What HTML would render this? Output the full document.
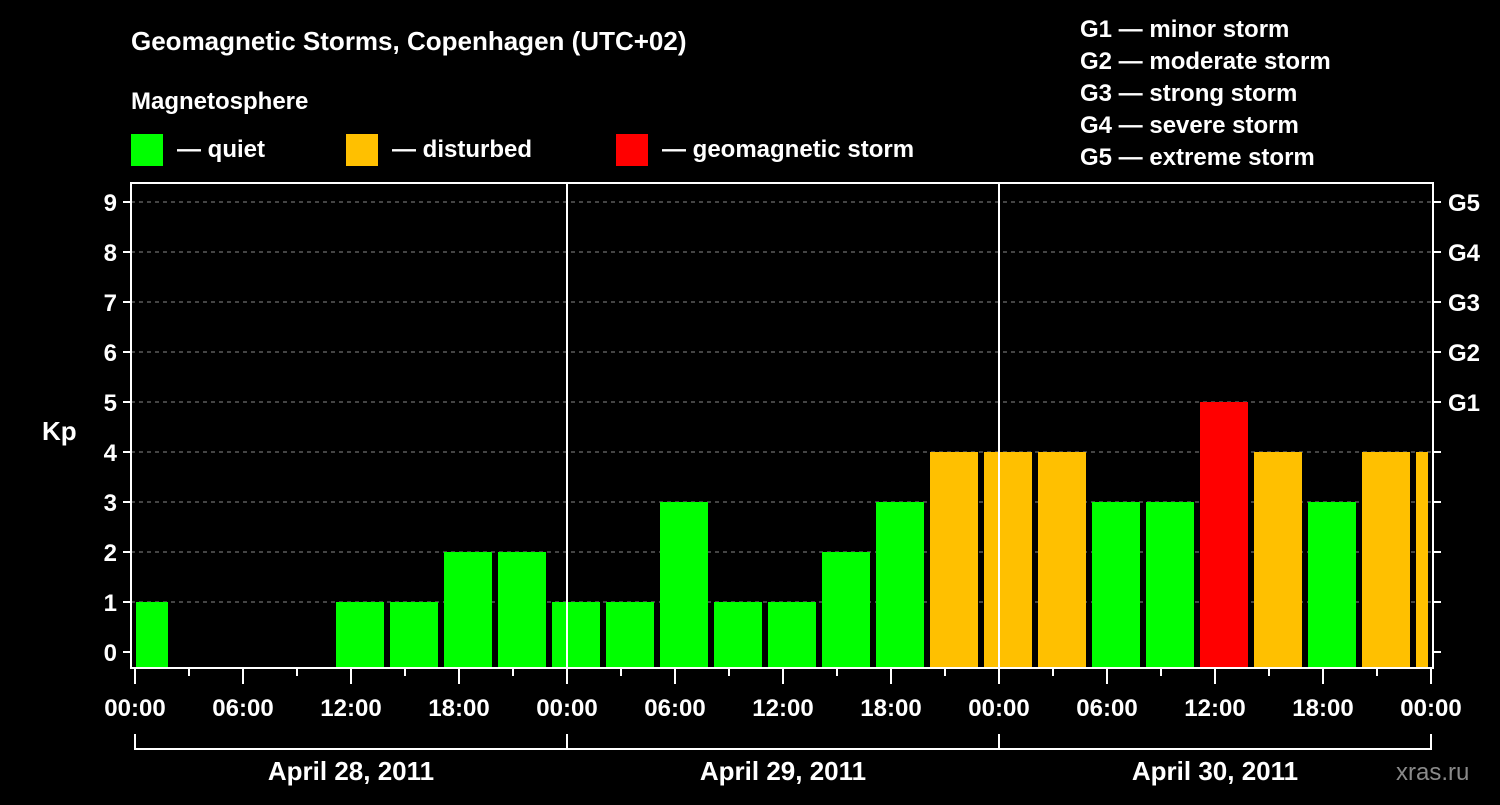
<!DOCTYPE html>
<html><head><meta charset="utf-8"><style>
body{margin:0;background:#000;width:1500px;height:800px;overflow:hidden}
svg text{font-family:"Liberation Sans",Arial,sans-serif;font-weight:bold;fill:#fff}
</style></head><body>
<svg id="chart" width="1500" height="800" xmlns="http://www.w3.org/2000/svg">
<text x="131" y="50" font-size="26">Geomagnetic Storms, Copenhagen (UTC+02)</text>
<text x="131" y="109" font-size="24">Magnetosphere</text>
<g><rect x="131" y="134" width="32" height="32" fill="#00ff00"/><text x="177" y="157" font-size="24">— quiet</text></g>
<g><rect x="346" y="134" width="32" height="32" fill="#ffc000"/><text x="392" y="157" font-size="24">— disturbed</text></g>
<g><rect x="616" y="134" width="32" height="32" fill="#ff0000"/><text x="662" y="157" font-size="24">— geomagnetic storm</text></g>
<g font-size="24">
<text x="1080" y="37">G1 — minor storm</text>
<text x="1080" y="69">G2 — moderate storm</text>
<text x="1080" y="101">G3 — strong storm</text>
<text x="1080" y="133">G4 — severe storm</text>
<text x="1080" y="165">G5 — extreme storm</text>
</g>
<text x="42" y="440" font-size="26">Kp</text>
<text x="1396" y="780" font-size="24" fill="#888" style="fill:#8a8a8a;font-weight:normal">xras.ru</text>
<g id="grid"></g><g id="bars"></g><g id="axes"></g>
</svg>
<script>
const kpValues=[1,0,0,0,1,1,2,2,1,1,3,1,1,2,3,4,4,4,3,3,5,4,3,4,4];
const yTicks=[0,1,2,3,4,5,6,7,8,9];
const gLabels=["G1","G2","G3","G4","G5"];
const xTickLabels=["00:00","06:00","12:00","18:00","00:00","06:00","12:00","18:00","00:00","06:00","12:00","18:00","00:00"];
const dayLabels=["April 28, 2011","April 29, 2011","April 30, 2011"];
const NS="http://www.w3.org/2000/svg";
const X0=135,PXH=18,Y0=652,PXK=50,L=131,R=1433,T=183,B=668;
const xs=h=>X0+h*PXH, ys=v=>Y0-v*PXK;
function mk(p,tag,at){const e=document.createElementNS(NS,tag);for(const k in at)e.setAttribute(k,at[k]);p.appendChild(e);return e;}
const grid=document.getElementById('grid'),bars=document.getElementById('bars'),ax=document.getElementById('axes');
yTicks.forEach(v=>{if(v>0){const g=mk(grid,'line',{x1:L,x2:R,y1:ys(v),y2:ys(v),stroke:'#888','stroke-dasharray':'4,4','stroke-width':1});

}});
kpValues.forEach((v,i)=>{if(v<=0)return;
let x1=xs(-1+3*i)+3,x2=x1+48;x1=Math.max(x1,136);x2=Math.min(x2,1428);
const c=v>=5?'#ff0000':v>=4?'#ffc000':'#00ff00';
const r=mk(bars,'rect',{x:x1,y:ys(v),width:x2-x1,height:B-1-ys(v),fill:c});

});
// day separators
[24,48].forEach(h=>{const l=mk(ax,'line',{x1:xs(h),x2:xs(h),y1:T,y2:B,stroke:'#fff','stroke-width':2});

});
const fr=mk(ax,'rect',{x:L,y:T,width:R-L,height:B-T,fill:'none',stroke:'#fff','stroke-width':2});


yTicks.forEach(v=>{mk(ax,'line',{x1:L-8,x2:L,y1:ys(v),y2:ys(v),stroke:'#fff','stroke-width':2});
mk(ax,'line',{x1:R,x2:R+8,y1:ys(v),y2:ys(v),stroke:'#fff','stroke-width':2});
const t=mk(ax,'text',{x:L-14,y:ys(v)+9,'text-anchor':'end','font-size':24});t.textContent=v;

});
gLabels.forEach((g,i)=>{const t=mk(ax,'text',{x:1448,y:ys(5+i)+9,'font-size':24});t.textContent=g;

});
for(let h=0;h<=72;h+=3){const maj=h%6===0;mk(ax,'line',{x1:xs(h),x2:xs(h),y1:B,y2:B+(maj?16:8),stroke:'#fff','stroke-width':2});}
xTickLabels.forEach((s,i)=>{const t=mk(ax,'text',{x:xs(i*6),y:716,'text-anchor':'middle','font-size':24});t.textContent=s;

});
dayLabels.forEach((d,i)=>{const a=xs(24*i),b=xs(24*i+24);
mk(ax,'path',{d:`M${a},734V749H${b}V734`,fill:'none',stroke:'#fff','stroke-width':2});
const t=mk(ax,'text',{x:(a+b)/2,y:780,'text-anchor':'middle','font-size':26});t.textContent=d;

});
</script>
</body></html>
